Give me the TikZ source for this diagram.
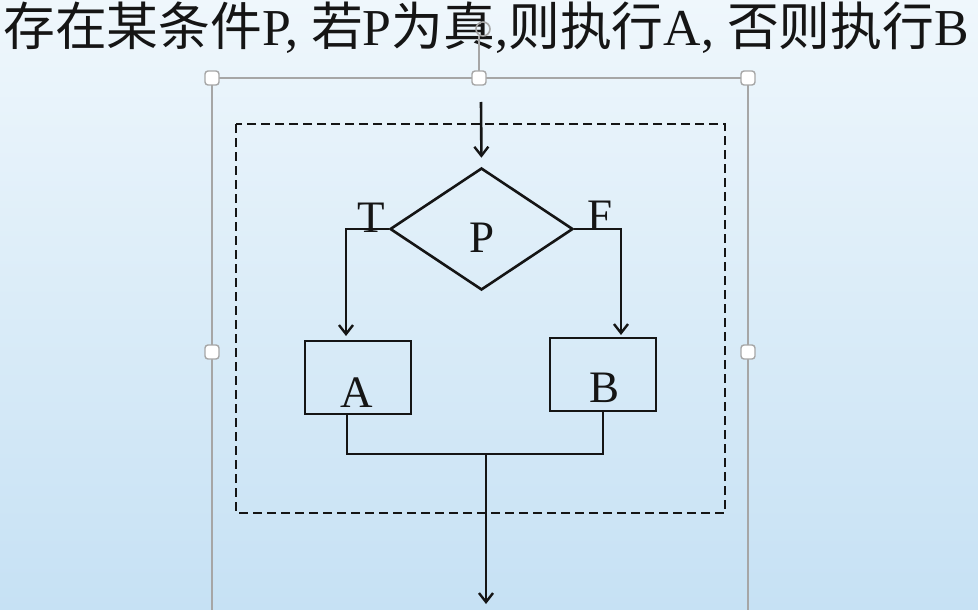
\documentclass[tikz,border=0pt]{standalone}
\usepackage{fontspec}
\setmainfont{Liberation Serif}
\newfontfamily\cjk{Noto Sans CJK SC}
\usetikzlibrary{shapes.geometric,arrows.meta}
\definecolor{bgtop}{HTML}{EFF7FC}
\definecolor{bgbot}{HTML}{C6E1F4}
\definecolor{selgray}{HTML}{A6A6A6}
\definecolor{ink}{HTML}{151515}
\tikzset{
  flow/.style={line width=2.6pt, draw=ink},
  arr/.style={flow, -{Straight Barb[length=9pt,width=14pt,line width=2.4pt]}},
  procbox/.style={flow, rectangle, inner sep=0pt},
  decide/.style={flow, diamond, inner sep=0pt, minimum width=183pt, minimum height=122pt},
  lbl/.style={font=\fontsize{45}{47}\selectfont, text=ink, inner sep=0pt},
  handle/.style={draw=selgray, line width=1.4pt, fill=white, rounded corners=3pt, minimum size=14pt, inner sep=0pt},
  selline/.style={draw=selgray, line width=1.8pt},
}
\begin{document}
\begin{tikzpicture}[x=1pt,y=-1pt]
\useasboundingbox (0,0) rectangle (978,610);
\shade[top color=bgtop, bottom color=bgbot] (0,0) rectangle (978,610);
% title
\node[font=\fontsize{51.8}{54}\selectfont, text=ink, inner sep=0pt, anchor=center] (title) at (486,28)
  {{\cjk 存在某条件}P, {\cjk 若}P{\cjk 为真},{\cjk 则执行}A, {\cjk 否则执行}B};
% selection frame
\coordinate (s1) at (212,78);
\coordinate (s2) at (479,78);
\coordinate (s3) at (748,78);
\coordinate (s4) at (212,610);
\coordinate (s5) at (748,610);
\coordinate (rot) at (479,36);
\draw[selline] (s4) -- (s1) -- (s3) -- (s5);
\draw[selline] (s2) -- (rot);
\node[draw=selgray, line width=1.6pt, circle, minimum size=14pt, inner sep=0pt] (rh) at (483,29) {};
\node[handle] (h1) at (s1) {};
\node[handle] (h2) at (s2) {};
\node[handle] (h3) at (s3) {};
\node[handle] (h4) at (212,352) {};
\node[handle] (h5) at (748,352) {};
% dashed frame
\draw[flow, dash pattern=on 9pt off 5pt] (236,124) rectangle (725,513);
% flowchart
\coordinate (start) at (481,102);
\node[decide] (D) at (481.5,229) {};
\node[lbl, anchor=base] (Pl) at (482,252) {P};
\node[procbox, minimum width=106pt, minimum height=73pt] (A) at (358,377.5) {};
\node[procbox, minimum width=106pt, minimum height=73pt] (B) at (603,374.5) {};
\node[lbl, anchor=base] (Al) at (357,407) {A};
\node[lbl, anchor=base] (Bl) at (605,402) {B};
\node[lbl, anchor=base] (T) at (371,232) {T};
\node[lbl, anchor=base] (F) at (600,230) {F};
\coordinate (ain) at (346,341);
\coordinate (bin) at (621,338);
\coordinate (aout) at (347,414);
\coordinate (bout) at (603,411);
\coordinate (jl) at (347,454);
\coordinate (jr) at (603,454);
\coordinate (jm) at (486,454);
\coordinate (fin) at (486,604);
\draw[arr, shorten >=9pt] (start) -- (D.north);
\draw[arr, shorten >=5pt] (D.west) -| (ain);
\draw[arr, shorten >=3pt] (D.east) -| (bin);
\draw[flow] (aout) -- (jl) -- (jr) -- (bout);
\draw[arr] (jm) -- (fin);
\end{tikzpicture}
\end{document}
